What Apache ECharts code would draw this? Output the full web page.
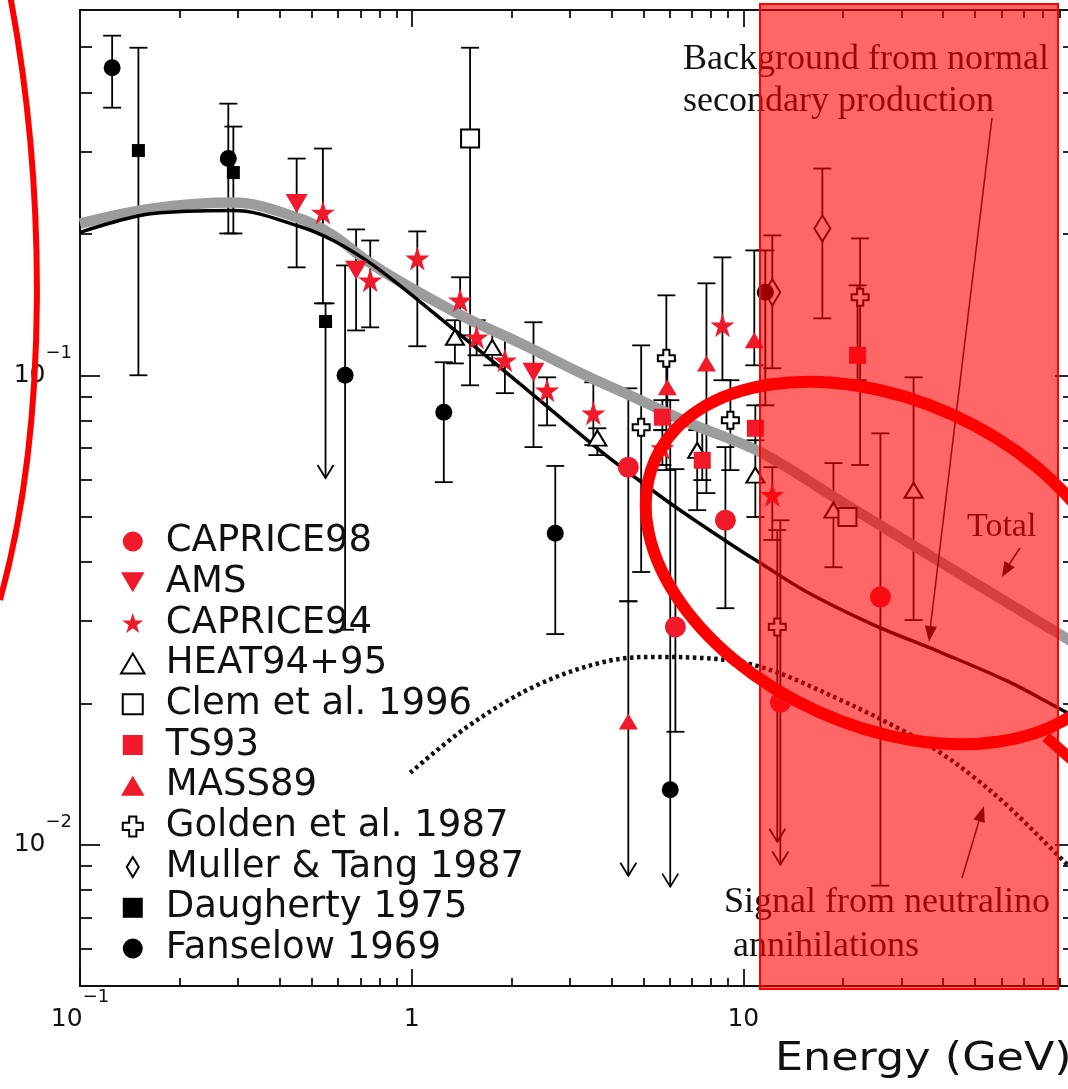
<!DOCTYPE html>
<html>
<head>
<meta charset="utf-8">
<script src="https://cdn.jsdelivr.net/npm/echarts@6/dist/echarts.min.js"></script>
<style>
  html, body { margin: 0; padding: 0; background: #fff; }
  #chart { width: 1068px; height: 1089px; }
</style>
</head>
<body>
<div id="chart"></div>
<script>
// Positron fraction versus energy: compiled balloon / space measurements
// with the secondary-production background, a neutralino signal and their total.
// Each measurement row: [energy (GeV), value, lower end of bar, upper end of bar, arrow flag]
const caprice98 = [
  [4.50, 0.0637, 0.0330, 0.0938, 0],
  [6.24, 0.0291, 0.0174, 0.0631, 0],
  [8.83, 0.0491, 0.0319, 0.0703, 0],
  [12.93, 0.0201, 0.00907, 0.0491, 1],
  [25.9, 0.0337, 0.00818, 0.0752, 0]
];
const ams = [
  [0.45, 0.2323, 0.1698, 0.2895, 0],
  [0.68, 0.1673, 0.1246, 0.2045, 0],
  [2.33, 0.1015, 0.0703, 0.1297, 0]
];
const caprice94 = [
  [0.54, 0.2222, 0.1423, 0.3041, 0],
  [0.75, 0.1593, 0.1265, 0.1937, 0],
  [1.04, 0.1774, 0.1153, 0.2025, 0],
  [1.40, 0.1444, 0.1216, 0.1617, 0],
  [1.57, 0.1205, 0.1103, 0.1310, 0],
  [1.91, 0.1076, 0.0916, 0.1216, 0],
  [2.56, 0.0929, 0.0782, 0.0990, 0],
  [3.53, 0.0830, 0.0710, 0.0966, 0],
  [5.70, 0.0700, 0.0644, 0.0764, 0],
  [8.65, 0.1278, 0.0976, 0.1783, 0],
  [12.23, 0.0556, 0.0446, 0.0637, 0]
];
const heat9495 = [
  [1.35, 0.1205, 0.1060, 0.1310, 0],
  [1.75, 0.1147, 0.1050, 0.1246, 0],
  [3.63, 0.0735, 0.0676, 0.0771, 0],
  [7.26, 0.0692, 0.0516, 0.0764, 0],
  [10.87, 0.0613, 0.0499, 0.0727, 0],
  [18.69, 0.0516, 0.0390, 0.0650, 0],
  [32.6, 0.0569, 0.0301, 0.0990, 0]
];
const clem1996 = [
  [1.50, 0.3193, 0.0952, 0.4986, 0],
  [20.6, 0.0499, 0.0480, 0.0516, 0]
];
const ts93 = [
  [5.70, 0.0814, 0.0764, 0.0885, 0],
  [7.52, 0.0659, 0.0598, 0.0764, 0],
  [10.87, 0.0771, 0.0692, 0.0863, 0],
  [22.1, 0.1103, 0.0976, 0.1554, 0]
];
const mass89 = [
  [4.50, 0.0183, 0.00859, 0.0330, 1],
  [5.90, 0.0943, 0.0802, 0.1076, 0],
  [7.74, 0.1060, 0.0561, 0.1570, 0],
  [10.79, 0.1187, 0.1050, 0.1845, 0]
];
const golden1987 = [
  [4.92, 0.0775, 0.0381, 0.1158, 0],
  [5.86, 0.1087, 0.0628, 0.1480, 0],
  [9.14, 0.0802, 0.0628, 0.0976, 0],
  [12.66, 0.0291, 0.01015, 0.0468, 1],
  [22.5, 0.1466, 0.0644, 0.1957, 0]
];
const muller1987 = [
  [12.23, 0.1502, 0.1035, 0.1986, 0],
  [17.31, 0.2055, 0.1322, 0.2757, 0]
];
const daugherty1975 = [
  [0.15, 0.3011, 0.1000, 0.4986, 0],
  [0.29, 0.2703, 0.2005, 0.3387, 0],
  [0.55, 0.1302, 0.0604, 0.1423, 1]
];
const fanselow1969 = [
  [0.125, 0.452, 0.3716, 0.529, 0],
  [0.28, 0.2895, 0.2005, 0.379, 0],
  [0.63, 0.100, 0.0287, 0.1714, 0],
  [1.25, 0.0834, 0.0592, 0.1066, 0],
  [2.71, 0.0461, 0.0281, 0.0641, 0],
  [6.02, 0.0131, 0.00814, 0.0885, 1],
  [11.65, 0.1502, 0.0863, 0.1845, 0]
];

// Model curves: [energy (GeV), positron fraction]
const totalCurve = [[0.1,0.2105],[0.166,0.2266],[0.29,0.2333],[0.46,0.2158],[0.58,0.1986],[0.73,0.1757],[0.92,0.1585],[1.47,0.1322],[2.13,0.117],[3.29,0.1005],[4.89,0.0885],[6.92,0.079],[11.25,0.0686],[19.6,0.054],[39.3,0.04],[90.4,0.028],[100,0.0268]];
const backgroundCurve = [[0.1,0.2015],[0.166,0.2211],[0.29,0.2244],[0.46,0.2075],[0.58,0.1937],[0.73,0.1757],[0.92,0.1554],[1.16,0.1361],[1.47,0.1187],[2.33,0.0907],[3.69,0.0692],[4.66,0.061],[5.9,0.0539],[7.42,0.0482],[9.33,0.0433],[11.25,0.0398],[15.6,0.0345],[24.7,0.0294],[39.3,0.0257],[62.6,0.0223],[88.5,0.0196],[100,0.0187]];
const signalCurve = [[0.99,0.01423],[1.47,0.01782],[2.33,0.02169],[3.69,0.02439],[5.24,0.02512],[7.42,0.025],[11.25,0.02393],[19.6,0.02035],[31.2,0.0173],[39.3,0.0157],[49.4,0.01395],[62.6,0.0121],[88.5,0.00952],[100,0.00872]];

// Axis ticks and labels
const xLabelValues = [0.1, 1, 10];
const yLabelValues = [0.01, 0.1];
const xMajorTicks = [1, 10];
const xMinorTicks = [0.2,0.3,0.4,0.5,0.6,0.7,0.8,0.9,2,3,4,5,6,7,8,9,20,30,40,50,60,70,80,90];
const yMajorTicks = [0.01, 0.1];
const yMinorTicks = [0.006,0.007,0.008,0.009,0.02,0.03,0.04,0.05,0.06,0.07,0.08,0.09,0.2,0.3,0.4,0.5];

const RED = '#f2192b';
const ICON = {
  circle: 'circle',
  triDown: 'path://M0,0L20,0L10,17Z',
  star: 'path://M50,0L61.8,36.2L100,36.2L69.1,58.8L80.9,95.1L50,72.4L19.1,95.1L30.9,58.8L0,36.2L38.2,36.2Z',
  triUp: 'path://M10,0L20,17L0,17Z',
  square: 'path://M0,0L18,0L18,18L0,18Z',
  cross: 'path://M3.2,0L6.8,0L6.8,3.2L10,3.2L10,6.8L6.8,6.8L6.8,10L3.2,10L3.2,6.8L0,6.8L0,3.2L3.2,3.2Z',
  diamond: 'path://M6,0L12,10L6,20L0,10Z'
};

const datasets = [
  { name: 'CAPRICE98', data: caprice98, icon: ICON.circle, size: 21, fill: RED },
  { name: 'AMS', data: ams, icon: ICON.triDown, size: [22, 19], fill: RED },
  { name: 'CAPRICE94', data: caprice94, icon: ICON.star, size: 24, fill: RED },
  { name: 'HEAT94+95', data: heat9495, icon: ICON.triUp, size: [18, 15], fill: '#fff', open: true },
  { name: 'Clem et al. 1996', data: clem1996, icon: ICON.square, size: 18, fill: '#fff', open: true },
  { name: 'TS93', data: ts93, icon: ICON.square, size: 17, fill: RED },
  { name: 'MASS89', data: mass89, icon: ICON.triUp, size: [19, 16], fill: RED },
  { name: 'Golden et al. 1987', data: golden1987, icon: ICON.cross, size: 17, fill: '#fff', open: true },
  { name: 'Muller & Tang 1987', data: muller1987, icon: ICON.diamond, size: [16, 26], fill: '#fff', open: true },
  { name: 'Daugherty 1975', data: daugherty1975, icon: ICON.square, size: 13, fill: '#000' },
  { name: 'Fanselow 1969', data: fanselow1969, icon: ICON.circle, size: 17, fill: '#000' }
];

// Vertical error bar with caps; flagged rows end in an open arrow head
function renderBar(params, api) {
  const e = api.value(0), lo = api.value(2), hi = api.value(3), arrow = api.value(4);
  const top = api.coord([e, hi]);
  const bot = api.coord([e, lo]);
  const x = top[0], cap = 9;
  const st = () => ({ stroke: '#000', lineWidth: 1.8, fill: null });
  const kids = [
    { type: 'line', shape: { x1: x, y1: top[1], x2: x, y2: bot[1] }, style: st() },
    { type: 'line', shape: { x1: x - cap, y1: top[1], x2: x + cap, y2: top[1] }, style: st() }
  ];
  if (arrow) {
    kids.push({ type: 'polyline', shape: { points: [[x - 8, bot[1] - 13], [x, bot[1]], [x + 8, bot[1] - 13]] }, style: st() });
  } else {
    kids.push({ type: 'line', shape: { x1: x - cap, y1: bot[1], x2: x + cap, y2: bot[1] }, style: st() });
  }
  return { type: 'group', children: kids };
}

const FONT = 'DejaVu Sans';
const labelRich = {
  b: { fontSize: 25, lineHeight: 62, fontFamily: FONT, color: '#111' },
  s: { fontSize: 18, lineHeight: 28, verticalAlign: 'top', fontFamily: FONT, color: '#111' }
};
function powerLabel(v, allowed) {
  if (!allowed.some(a => Math.abs(Math.log10(a) - Math.log10(v)) < 1e-6)) return '';
  const e = Math.round(Math.log10(v));
  if (e === 0) return '{b|1}';
  if (e === 1) return '{b|10}';
  return '{b|10}{s|\u2212' + (-e) + '}';
}

const tickLine = w => ({ color: '#111', width: w });
function xAxisDef(position, ticks, length, withLabels) {
  return {
    type: 'log', logBase: 10, min: 0.1, max: 100, position: position,
    axisLine: { show: false, onZero: false },
    splitLine: { show: false },
    axisTick: ticks ? { show: true, inside: true, length: length, customValues: ticks, lineStyle: tickLine(1.8) }
                    : { show: true, inside: true, length: length, lineStyle: tickLine(1.8) },
    axisLabel: withLabels ? { show: true, margin: 2, formatter: v => powerLabel(v, xLabelValues), rich: labelRich }
                          : { show: false }
  };
}
function yAxisDef(position, ticks, length, withLabels) {
  return {
    type: 'log', logBase: 10, min: 0.005, max: 0.6, position: position,
    axisLine: { show: false, onZero: false },
    splitLine: { show: false },
    axisTick: { show: true, inside: true, length: length, customValues: ticks, lineStyle: tickLine(1.8) },
    axisLabel: withLabels ? { show: true, margin: 8, formatter: v => powerLabel(v, yLabelValues), rich: labelRich }
                          : { show: false }
  };
}

const series = [];
datasets.forEach(d => {
  series.push({
    type: 'custom', name: d.name + ' bars', xAxisIndex: 0, yAxisIndex: 0,
    data: d.data, renderItem: renderBar, encode: { x: 0, y: 1 }, z: 2, silent: true
  });
});
series.push({
  type: 'line', name: 'Total', data: totalCurve, smooth: 0.35, showSymbol: false, z: 3,
  lineStyle: { color: '#9c9c9c', width: 10.5 }, silent: true
});
series.push({
  type: 'line', name: 'Background', data: backgroundCurve, smooth: 0.35, showSymbol: false, z: 4,
  lineStyle: { color: '#000', width: 3.5 }, silent: true
});
series.push({
  type: 'line', name: 'Signal', data: signalCurve, smooth: 0.35, showSymbol: false, z: 4,
  lineStyle: { color: '#111', width: 4.5, type: [3.5, 3.5], cap: 'butt' }, silent: true
});
datasets.forEach(d => {
  series.push({
    type: 'scatter', name: d.name, xAxisIndex: 0, yAxisIndex: 0,
    data: d.data.map(r => [r[0], r[1]]),
    symbol: d.icon, symbolSize: d.size, z: 5, silent: true,
    itemStyle: d.open ? { color: '#fff', borderColor: '#000', borderWidth: 2, opacity: 1 }
                      : { color: d.fill, borderWidth: 0, opacity: 1 }
  });
});

const serif = 'Liberation Serif';
const annText = (text, x, y, size) => ({
  type: 'text', x: x, y: y, z: 50, silent: true,
  style: { text: text, fontSize: size, fontFamily: serif, fill: '#111', verticalAlign: 'middle', textVerticalAlign: 'middle' }
});

const chart = echarts.init(document.getElementById('chart'), null, { renderer: 'canvas' });
chart.setOption({
  animation: false,
  backgroundColor: '#fff',
  grid: { left: 80, top: 10, width: 995, height: 976, show: true, borderColor: '#111', borderWidth: 2,
          backgroundColor: 'transparent', containLabel: false, outerBoundsMode: 'none' },
  xAxis: [
    xAxisDef('bottom', null, 17, true),
    xAxisDef('bottom', xMinorTicks, 8, false),
    xAxisDef('top', xMajorTicks, 17, false),
    xAxisDef('top', xMinorTicks, 8, false)
  ],
  yAxis: [
    yAxisDef('left', yMajorTicks, 20, true),
    yAxisDef('left', yMinorTicks, 12, false),
    yAxisDef('right', yMajorTicks, 20, false),
    yAxisDef('right', yMinorTicks, 12, false)
  ],
  legend: {
    orient: 'vertical', left: 115, top: 518,
    itemWidth: 56, itemHeight: 20, itemGap: 3.7,
    symbolKeepAspect: true, selectedMode: false,
    textStyle: { fontFamily: FONT, fontSize: 37, lineHeight: 36, color: '#111' },
    data: datasets.map(d => ({ name: d.name, icon: d.icon }))
  },
  series: series,
  graphic: [
    annText('Background from normal', 683, 60, 36),
    annText('secondary production', 683, 102, 36),
    annText('Total', 967, 527, 34),
    annText('Signal from neutralino', 724, 903, 36),
    annText('annihilations', 733, 947, 36),
    { type: 'line', z: 50, shape: { x1: 992, y1: 118, x2: 930, y2: 630 }, style: { stroke: '#111', lineWidth: 1.5 } },
    { type: 'polygon', z: 50, shape: { points: [[929, 642], [936.9, 626.8], [924.9, 625.4]] }, style: { fill: '#111' } },
    { type: 'line', z: 50, shape: { x1: 1020, y1: 548, x2: 1008, y2: 566 }, style: { stroke: '#111', lineWidth: 1.5 } },
    { type: 'polygon', z: 50, shape: { points: [[1002, 577], [1014.8, 567.2], [1004.4, 561]] }, style: { fill: '#111' } },
    { type: 'line', z: 50, shape: { x1: 962, y1: 878, x2: 979, y2: 821 }, style: { stroke: '#111', lineWidth: 1.5 } },
    { type: 'polygon', z: 50, shape: { points: [[984, 806], [984.8, 823], [973.4, 819.4]] }, style: { fill: '#111' } },
    { type: 'rect', z: 100, silent: true, shape: { x: 760, y: 4, width: 298, height: 985 },
      style: { fill: 'rgba(255,0,0,0.6)', stroke: '#ff0000', lineWidth: 2 } },
    { type: 'ellipse', z: 110, silent: true, x: 885, y: 563, rotation: -0.425,
      shape: { cx: 0, cy: 0, rx: 252, ry: 163 }, style: { fill: null, stroke: '#ff0000', lineWidth: 12 } },
    { type: 'line', z: 110, silent: true, shape: { x1: 1046, y1: 737, x2: 1072, y2: 760 },
      style: { stroke: '#ff0000', lineWidth: 11 } },
    { type: 'bezierCurve', z: 110, silent: true,
      shape: { x1: 10, y1: -5, cpx1: 45, cpy1: 180, cpx2: 50, cpy2: 420, x2: 0, y2: 600 },
      style: { fill: null, stroke: '#ff0000', lineWidth: 6 } },
    { type: 'text', z: 50, x: 775, y: 1060, scaleX: 1.14, silent: true,
      style: { text: 'Energy (GeV)', fontSize: 39, fontFamily: FONT, fill: '#111', verticalAlign: 'middle', textVerticalAlign: 'middle' } }
  ]
});
</script>
</body>
</html>
